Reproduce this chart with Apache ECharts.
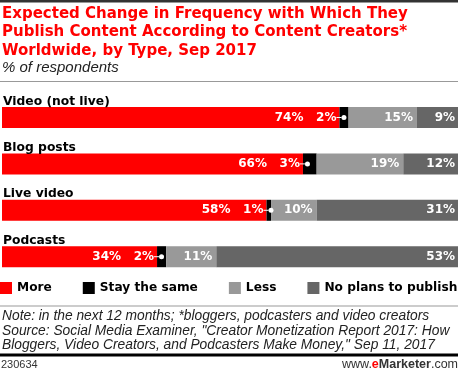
<!DOCTYPE html>
<html>
<head>
<meta charset="utf-8">
<script src="https://cdn.jsdelivr.net/npm/echarts@6/dist/echarts.min.js"></script>
<style>html,body{margin:0;padding:0;background:#fff}#c{width:458px;height:371px}</style>
</head>
<body>
<div id="c"></div>
<script>
var categories = ['Video (not live)', 'Blog posts', 'Live video', 'Podcasts'];
var seriesNames = ['More', 'Stay the same', 'Less', 'No plans to publish'];
var more = [74, 66, 58, 34];
var same = [2, 3, 1, 2];
var less = [15, 19, 10, 11];
var noPlans = [9, 12, 31, 53];
var colors = ['#ff0000', '#000000', '#999999', '#666666'];

var chart = echarts.init(document.getElementById('c'), null, {renderer: 'canvas'});
var labelFont = {color: '#fff', fontFamily: 'DejaVu Sans', fontWeight: 'bold', fontSize: 12};
function pct(p) { return p.value + '%'; }

var option = {
  animation: false,
  grid: {left: 1, right: 0, top: 94.3, bottom: 91.1},
  xAxis: {type: 'value', min: 0, max: 100, show: false},
  yAxis: {
    type: 'category', data: categories, inverse: true, z: 10,
    axisLine: {show: false}, axisTick: {show: false}, splitLine: {show: false},
    axisLabel: {
      show: true, inside: true, margin: 1, interval: 0,
      formatter: function (v) { return '{c|' + v + '}'; },
      rich: {c: {color: '#000', fontFamily: 'DejaVu Sans', fontWeight: 'bold', fontSize: 12.3, padding: [0, 0, 32, 0]}}
    }
  },
  legend: {
    data: seriesNames, left: 0, top: 282, width: 470, itemWidth: 12, itemHeight: 12, itemGap: 31, icon: 'rect',
    padding: 0,
    textStyle: {color: '#000', fontFamily: 'DejaVu Sans', fontWeight: 'bold', fontSize: 12.2}
  },
  series: [
    {name: seriesNames[0], type: 'bar', stack: 's', data: more, barWidth: 21, itemStyle: {color: colors[0]},
      label: Object.assign({show: true, position: 'insideRight', distance: 36, formatter: pct}, labelFont)},
    {name: seriesNames[1], type: 'bar', stack: 's', data: same, barWidth: 21, itemStyle: {color: colors[1]},
      label: {show: true, position: 'left', distance: -7,
        formatter: function (p) { return '{v|' + p.value + '%}{l|}{d|}'; },
        rich: {
          v: Object.assign({verticalAlign: 'middle'}, labelFont),
          l: {width: 5, height: 1, backgroundColor: '#fff', verticalAlign: 'middle'},
          d: {width: 5, height: 5, borderRadius: 3, backgroundColor: '#fff', verticalAlign: 'middle'}
        }}},
    {name: seriesNames[2], type: 'bar', stack: 's', data: less, barWidth: 21, itemStyle: {color: colors[2]},
      label: Object.assign({show: true, position: 'insideRight', distance: 4, formatter: pct}, labelFont)},
    {name: seriesNames[3], type: 'bar', stack: 's', data: noPlans, barWidth: 21, itemStyle: {color: colors[3]},
      label: Object.assign({show: true, position: 'insideRight', distance: 3, formatter: pct}, labelFont)}
  ],
  graphic: [
    {type: 'rect', shape: {x: 0, y: 0, width: 458, height: 2.5}, style: {fill: '#333'}},
    {type: 'text', left: 2, top: 5, style: {
      text: 'Expected Change in Frequency with Which They\nPublish Content According to Content Creators*\nWorldwide, by Type, Sep 2017',
      font: 'bold 15px "DejaVu Sans"', fill: '#ff0000', lineHeight: 18.3}},
    {type: 'text', left: 2, top: 60, style: {text: '% of respondents', font: 'italic 15px "Liberation Sans"', fill: '#222'}},
    {type: 'rect', shape: {x: 0, y: 81, width: 458, height: 1}, style: {fill: '#999'}},
    {type: 'rect', shape: {x: 0, y: 305.5, width: 458, height: 1}, style: {fill: '#999'}},
    {type: 'text', left: 2, top: 309.5, style: {
      text: 'Note: in the next 12 months; *bloggers, podcasters and video creators\nSource: Social Media Examiner, "Creator Monetization Report 2017: How\nBloggers, Video Creators, and Podcasters Make Money," Sep 11, 2017',
      font: 'italic 13.8px "Liberation Sans"', fill: '#222', lineHeight: 14.3}},
    {type: 'rect', shape: {x: 0, y: 353.5, width: 458, height: 3}, style: {fill: '#000'}},
    {type: 'text', left: 1, top: 359, style: {text: '230634', font: '11px "Liberation Sans"', fill: '#333'}},
    {type: 'text', right: 0, top: 358, style: {
      text: '{n|www.}{e|e}{b|Marketer}{n|.com}',
      rich: {
        n: {fontFamily: 'Liberation Sans', fontSize: 12.5, fill: '#333'},
        e: {fontFamily: 'Liberation Sans', fontSize: 12.5, fontWeight: 'bold', fill: '#ff0000'},
        b: {fontFamily: 'Liberation Sans', fontSize: 12.5, fontWeight: 'bold', fill: '#333'}
      }}}
  ]
};
chart.setOption(option);
</script>
</body>
</html>
